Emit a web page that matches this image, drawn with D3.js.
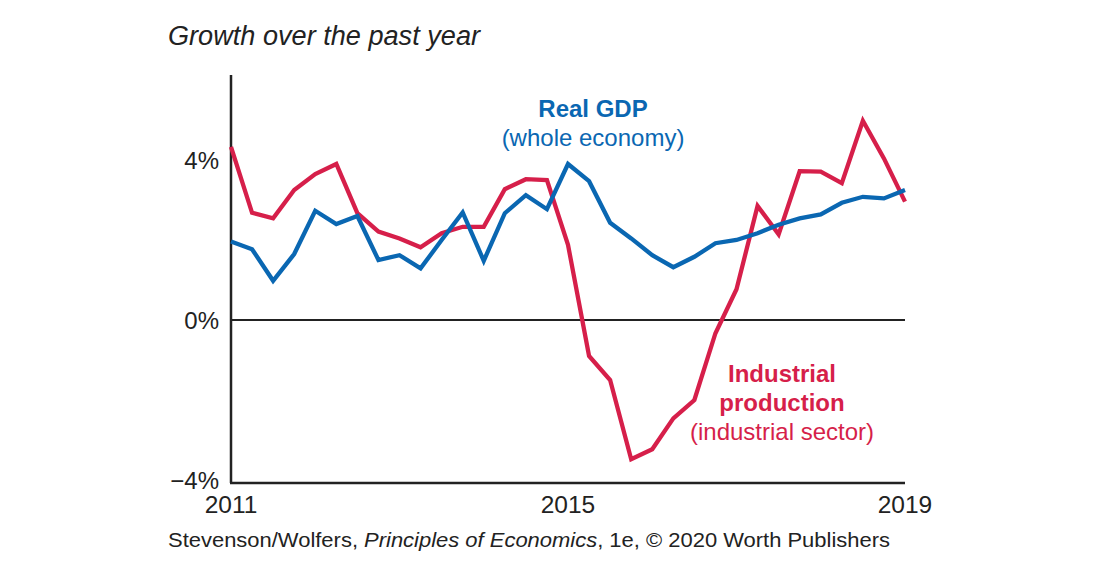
<!DOCTYPE html>
<html><head><meta charset="utf-8">
<script src="https://cdn.jsdelivr.net/npm/d3@7"></script>
<style>
body{margin:0;background:#fff;}
svg text{font-family:"Liberation Sans",Arial,Helvetica,sans-serif;}
</style></head>
<body><svg id="c" width="1100" height="577"></svg>
<script>
const startYear = 2011;
const quarters = d3.range(33).map(i => startYear + i / 4);
const gdp = [1.96,1.77,0.98,1.65,2.73,2.40,2.60,1.50,1.62,1.29,2.00,2.69,1.48,2.67,3.12,2.77,3.90,3.47,2.43,2.04,1.62,1.32,1.58,1.92,2.00,2.17,2.38,2.54,2.64,2.93,3.08,3.04,3.25];
const ip  = [4.33,2.68,2.54,3.25,3.65,3.90,2.67,2.21,2.04,1.82,2.17,2.33,2.33,3.27,3.52,3.50,1.88,-0.90,-1.50,-3.48,-3.23,-2.46,-2.00,-0.33,0.77,2.85,2.14,3.72,3.71,3.42,4.98,4.04,2.96];
const yTicks = [4, 0, -4];
const yTickLabels = ["4%", "0%", "\u22124%"];
const xTicks = [2011, 2015, 2019];
const blue = "#0a67b2", red = "#d61f4a";

const svg = d3.select("#c");
const x = d3.scaleLinear().domain([2011, 2019]).range([231, 905]);
const y = d3.scaleLinear().domain([-4.075, 6.125]).range([483, 75]);

// title
svg.append("text").attr("x", 168).attr("y", 45).attr("font-size", 27).attr("font-style", "italic").attr("fill", "#222").attr("textLength", 312).attr("lengthAdjust", "spacingAndGlyphs").text("Growth over the past year");

// zero line
svg.append("line").attr("x1", x(2011)).attr("x2", x(2019)).attr("y1", y(0)).attr("y2", y(0)).attr("stroke", "#222").attr("stroke-width", 2);

// axes
svg.append("line").attr("x1", x(2011)).attr("x2", x(2011)).attr("y1", y.range()[1]).attr("y2", y.range()[0]).attr("stroke", "#222").attr("stroke-width", 2.5);
svg.append("line").attr("x1", x(2011) - 1).attr("x2", x(2019)).attr("y1", y.range()[0]).attr("y2", y.range()[0]).attr("stroke", "#222").attr("stroke-width", 2.5);

yTicks.forEach((t, i) => {
  svg.append("text").attr("x", 219).attr("y", y(t) + 9).attr("text-anchor", "end").attr("font-size", 24).attr("fill", "#222").text(yTickLabels[i]);
});
xTicks.forEach(t => {
  svg.append("text").attr("x", x(t)).attr("y", 513).attr("text-anchor", "middle").attr("font-size", 24.5).attr("fill", "#222").text(t);
});

const line = d3.line().x((d, i) => x(quarters[i])).y(d => y(d));
svg.append("path").datum(ip).attr("d", line).attr("fill", "none").attr("stroke", red).attr("stroke-width", 4.3).attr("stroke-linejoin", "miter");
svg.append("path").datum(gdp).attr("d", line).attr("fill", "none").attr("stroke", blue).attr("stroke-width", 4.3).attr("stroke-linejoin", "miter");

// labels
svg.append("text").attr("x", 593).attr("y", 117).attr("text-anchor", "middle").attr("font-size", 24).attr("font-weight", "bold").attr("fill", blue).text("Real GDP");
svg.append("text").attr("x", 593).attr("y", 146).attr("text-anchor", "middle").attr("font-size", 24).attr("fill", blue).text("(whole economy)");
svg.append("text").attr("x", 782).attr("y", 382).attr("text-anchor", "middle").attr("font-size", 24).attr("font-weight", "bold").attr("fill", red).text("Industrial");
svg.append("text").attr("x", 782).attr("y", 411).attr("text-anchor", "middle").attr("font-size", 24).attr("font-weight", "bold").attr("fill", red).text("production");
svg.append("text").attr("x", 782).attr("y", 440).attr("text-anchor", "middle").attr("font-size", 24).attr("fill", red).text("(industrial sector)");

// footer
const f = svg.append("text").attr("x", 168).attr("y", 547).attr("font-size", 21).attr("fill", "#222").attr("textLength", 722).attr("lengthAdjust", "spacingAndGlyphs");
f.append("tspan").text("Stevenson/Wolfers, ");
f.append("tspan").attr("font-style", "italic").text("Principles of Economics");
f.append("tspan").text(", 1e, \u00A9 2020 Worth Publishers");
</script></body></html>
